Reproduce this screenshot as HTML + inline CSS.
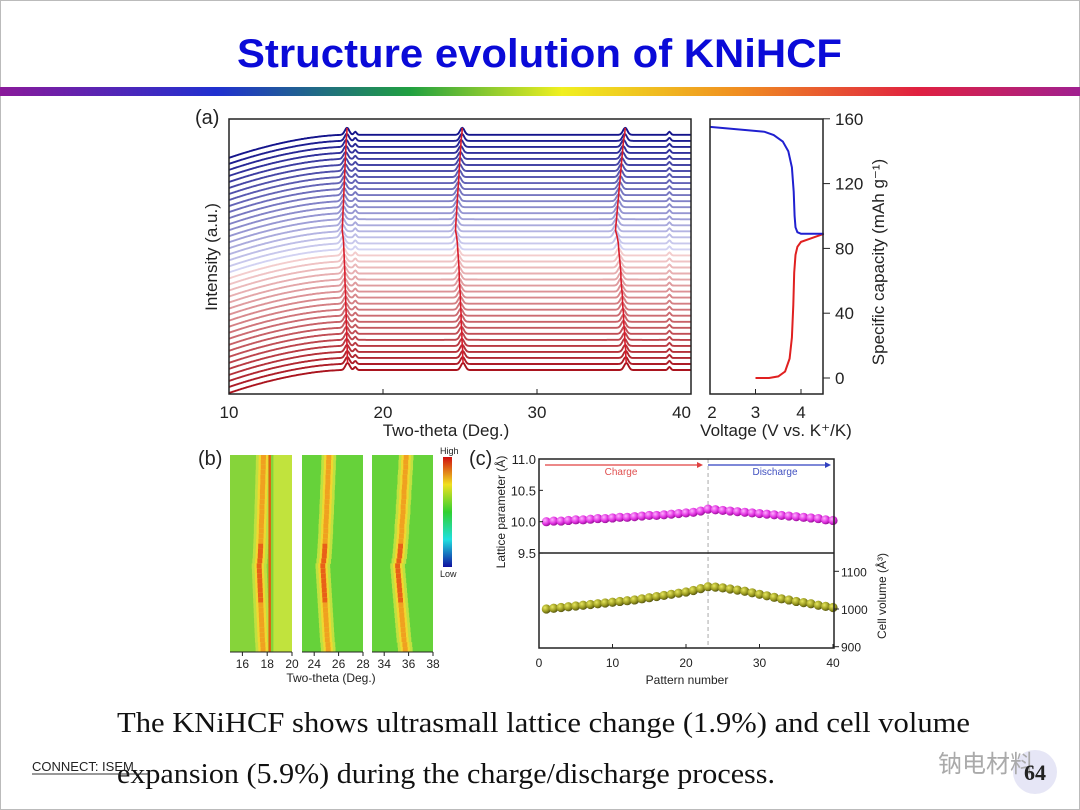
<!DOCTYPE html>
<html><head><meta charset="utf-8"><style>
html,body{margin:0;padding:0;background:#fff}
svg{display:block;font-family:"Liberation Sans",sans-serif}
</style></head><body>
<svg id="s" width="1080" height="810" viewBox="0 0 1080 810" xmlns="http://www.w3.org/2000/svg">
<defs>
<linearGradient id="rb" x1="0" x2="1" y1="0" y2="0">
<stop offset="0" stop-color="#8a1a9a"/><stop offset="0.2" stop-color="#2030d0"/><stop offset="0.38" stop-color="#20a040"/><stop offset="0.52" stop-color="#f0f020"/><stop offset="0.68" stop-color="#f09020"/><stop offset="0.85" stop-color="#e02040"/><stop offset="1" stop-color="#a02090"/>
</linearGradient>
<linearGradient id="cb" x1="0" x2="0" y1="0" y2="1">
<stop offset="0" stop-color="#d01010"/><stop offset="0.25" stop-color="#f0e020"/><stop offset="0.5" stop-color="#30d030"/><stop offset="0.75" stop-color="#20e0e0"/><stop offset="1" stop-color="#1010a0"/>
</linearGradient>
<radialGradient id="gm" cx="0.35" cy="0.35" r="0.7"><stop offset="0" stop-color="#ffb0ff"/><stop offset="0.6" stop-color="#e030e0"/><stop offset="1" stop-color="#901090"/></radialGradient>
<radialGradient id="go" cx="0.35" cy="0.35" r="0.7"><stop offset="0" stop-color="#e8e860"/><stop offset="0.6" stop-color="#9a9a20"/><stop offset="1" stop-color="#505010"/></radialGradient>
</defs>
<rect x="0.5" y="0.5" width="1079" height="809" fill="#fff" stroke="#bbb"/>
<text x="237" y="67" font-size="40" font-weight="bold" textLength="605" lengthAdjust="spacingAndGlyphs" fill="#0a0ad8">Structure evolution of KNiHCF</text>
<rect x="0" y="87" width="1080" height="9" fill="url(#rb)"/>
<g id="ga"></g>
<g id="gv"></g>
<g id="gb"></g>
<g id="gc"></g>
<text x="117" y="732" font-family="Liberation Serif,serif" font-size="29" textLength="853" lengthAdjust="spacingAndGlyphs" fill="#111">The KNiHCF shows ultrasmall lattice change (1.9%) and cell volume</text>
<text x="117" y="783" font-family="Liberation Serif,serif" font-size="29" textLength="658" lengthAdjust="spacingAndGlyphs" fill="#111">expansion (5.9%) during the charge/discharge process.</text>
<text x="32" y="771" font-size="13" fill="#222">CONNECT: ISEM</text>
<line x1="32" y1="774" x2="148" y2="774" stroke="#333" stroke-width="1"/>
<circle cx="1035" cy="772" r="22" fill="#e6e6f6"/>
<text x="938" y="772" font-family="Liberation Sans,Noto Sans CJK SC,sans-serif" font-size="24" fill="#aaa">钠电材料</text>
<text x="1035" y="780" text-anchor="middle" font-family="Liberation Serif,serif" font-weight="bold" font-size="22" fill="#222">64</text>
</svg>
<script>
// ---- data ----
const patterns = [1,2,3,4,5,6,7,8,9,10,11,12,13,14,15,16,17,18,19,20,21,22,23,24,25,26,27,28,29,30,31,32,33,34,35,36,37,38,39,40];
const lattice = [10.00,10.01,10.01,10.02,10.03,10.03,10.04,10.05,10.05,10.06,10.07,10.07,10.08,10.09,10.10,10.10,10.11,10.12,10.13,10.14,10.15,10.17,10.20,10.19,10.18,10.17,10.16,10.15,10.14,10.13,10.12,10.11,10.10,10.09,10.08,10.07,10.06,10.05,10.03,10.02];
const volume = [1000,1002,1004,1006,1008,1010,1012,1014,1016,1018,1020,1022,1024,1027,1030,1033,1036,1039,1042,1045,1049,1054,1059,1058,1056,1053,1050,1047,1043,1039,1035,1031,1027,1024,1020,1017,1014,1010,1007,1004];
const peakBase = [17.7, 25.2, 35.8];
const fixedPeaks = [18.2, 38.6];
const chargeV = [3.0,3.3,3.5,3.65,3.75,3.8,3.83,3.85,3.88,3.92,4.0,4.2,4.5];
const chargeC = [0,0,1,4,12,25,45,65,76,81,84,86,89];
const dischargeV = [4.5,4.2,4.0,3.92,3.88,3.86,3.84,3.8,3.72,3.6,3.4,3.2,2.8,2.0];
const dischargeC = [89,89,89,90,93,100,115,130,140,146,150,152,153,155];
const xTicksA = [10,20,30,40];
const vTicks = [2,3,4];
const capTicks = [0,40,80,120,160];
const pTicks = [0,10,20,30,40];
const latTicks = [9.5,10.0,10.5,11.0];
const volTicks = [900,1000,1100];
const heatRanges = [[15,20],[23,28],[33,38]];
const heatTickSets = [[16,18,20],[24,26,28],[34,36,38]];

const NS="http://www.w3.org/2000/svg";
function mk(parent,tag,attrs,text){const e=document.createElementNS(NS,tag);for(const k in attrs)e.setAttribute(k,attrs[k]);if(text!==undefined)e.textContent=text;parent.appendChild(e);return e;}

// ---- panel a ----
const ga=document.getElementById('ga');
const ax=v=>229+(v-10)/30*462;
const stepY=6.03, baseFlat=370;
function peakPos(k,i){return peakBase[k]*10.0/lattice[i];}
function traceColor(i){const t=i/39;let r,g,b;
 if(t<0.5){const u=t/0.5;r=170+75*u;g=20+190*u;b=30+180*u;}else{const u=(t-0.5)/0.5;r=215-195*u;g=215-195*u;b=245-105*u;}
 return `rgb(${r|0},${g|0},${b|0})`;}
for(let i=0;i<patterns.length;i++){
 let d='';
 for(let xv=10;xv<=40.001;xv+=0.05){
  const t=Math.min(1,(xv-10)/7.5);
  let off=23*Math.pow(1-t,1.7);
  let pk=0;
  for(let k=0;k<3;k++){const p=peakPos(k,i);pk+=7*Math.exp(-Math.pow((xv-p)/0.2,2));}
  for(const f of fixedPeaks)pk+=3*Math.exp(-Math.pow((xv-f)/0.12,2));
  const y=baseFlat-i*stepY+off-pk;
  d+=(d?'L':'M')+ax(xv).toFixed(1)+','+y.toFixed(1);
 }
 const p=mk(ga,'path',{d,fill:'none',stroke:traceColor(i),'stroke-width':1.9});
 
 
}
for(let k=0;k<3;k++){
 let d='';
 for(let i=0;i<patterns.length;i++){const y=baseFlat-i*stepY-7;d+=(d?'L':'M')+ax(peakPos(k,i)).toFixed(1)+','+y.toFixed(1);}
 const p=mk(ga,'path',{d,fill:'none',stroke:'#d81b2a','stroke-width':1.6});
 
 
}
mk(ga,'rect',{x:229,y:119,width:462,height:275,fill:'none',stroke:'#222','stroke-width':1.5});
for(const t of xTicksA){mk(ga,'line',{x1:ax(t),x2:ax(t),y1:394,y2:389,stroke:'#222'});
 const tx=mk(ga,'text',{x:ax(t),y:418,'text-anchor':t==40?'end':'middle','font-size':17,fill:'#222'},String(t));
 }
mk(ga,'text',{x:446,y:436,'text-anchor':'middle','font-size':17,fill:'#222'},'Two-theta (Deg.)');
mk(ga,'text',{x:0,y:0,transform:'translate(217,257) rotate(-90)','text-anchor':'middle','font-size':17,fill:'#222'},'Intensity (a.u.)');
mk(ga,'text',{x:195,y:124,'font-size':20,fill:'#222'},'(a)');

// ---- voltage panel ----
const gv=document.getElementById('gv');
const vx=v=>710+(v-2)*45.5, vy=c=>378-c*1.62;
function poly(V,C){return V.map((v,j)=>(j?'L':'M')+vx(v).toFixed(1)+','+vy(C[j]).toFixed(1)).join('');}
const pc=mk(gv,'path',{d:poly(chargeV,chargeC),fill:'none',stroke:'#e02020','stroke-width':2});

const pd=mk(gv,'path',{d:poly(dischargeV,dischargeC),fill:'none',stroke:'#2020d0','stroke-width':2});

mk(gv,'rect',{x:710,y:119,width:113,height:275,fill:'none',stroke:'#222','stroke-width':1.5});
for(const t of vTicks){mk(gv,'line',{x1:vx(t),x2:vx(t),y1:394,y2:389,stroke:'#222'});
 mk(gv,'text',{x:vx(t)+(t==2?2:0),y:418,'text-anchor':'middle','font-size':17,fill:'#222'},String(t));}
for(const t of capTicks){mk(gv,'line',{x1:823,x2:830,y1:vy(t),y2:vy(t),stroke:'#222'});
 mk(gv,'text',{x:835,y:vy(t)+6,'font-size':17,fill:'#222'},String(t));}
mk(gv,'text',{x:776,y:436,'text-anchor':'middle','font-size':17,fill:'#222'},'Voltage (V vs. K\u207A/K)');
mk(gv,'text',{x:0,y:0,transform:'translate(884,262) rotate(-90)','text-anchor':'middle','font-size':17,fill:'#222'},'Specific capacity (mAh g\u207B\u00B9)');

// ---- panel b heatmaps ----
const gb=document.getElementById('gb');
const boxes=[[230,292],[302,363],[372,433]];
const hy0=455,hy1=652,rowH=(hy1-hy0)/patterns.length;
for(let k=0;k<3;k++){
 const [x0,x1]=boxes[k],[a0,a1]=heatRanges[k];
 const hx=v=>x0+(v-a0)/(a1-a0)*(x1-x0);
 mk(gb,'rect',{x:x0,y:hy0,width:x1-x0,height:hy1-hy0,fill:k==0?'#86d43a':'#66d23a'});
 if(k==0)mk(gb,'rect',{x:hx(18.5),y:hy0,width:x1-hx(18.5),height:hy1-hy0,fill:'#cfe63e',opacity:0.8});
 for(let i=0;i<patterns.length;i++){
  const p=peakPos(k,i),y=hy0+i*rowH;
  const r0=mk(gb,'rect',{x:hx(p-0.6),y:y,width:hx(p+0.6)-hx(p-0.6),height:rowH+0.5,fill:'#c0e040'});
  
  const r1=mk(gb,'rect',{x:hx(p-0.38),y:y,width:hx(p+0.38)-hx(p-0.38),height:rowH+0.5,fill:'#f0d830'});
  
  const inten=Math.min(1,(lattice[i]-10)/0.2);
  const r2=mk(gb,'rect',{x:hx(p-0.2),y:y,width:hx(p+0.2)-hx(p-0.2),height:rowH+0.5,fill:inten>0.6?'#e86018':'#f0a020'});
  
 }
 if(k==0)mk(gb,'rect',{x:hx(18.1),y:hy0,width:hx(18.3)-hx(18.1),height:hy1-hy0,fill:'#e06010'});
 mk(gb,'line',{x1:x0,x2:x1,y1:hy1,y2:hy1,stroke:'#222'});
 for(const t of heatTickSets[k]){mk(gb,'line',{x1:hx(t),x2:hx(t),y1:hy1,y2:hy1+4,stroke:'#222'});
  mk(gb,'text',{x:hx(t),y:668,'text-anchor':'middle','font-size':12,fill:'#222'},String(t));}
}
mk(gb,'text',{x:331,y:682,'text-anchor':'middle','font-size':12,fill:'#222'},'Two-theta (Deg.)');
mk(gb,'text',{x:198,y:465,'font-size':20,fill:'#222'},'(b)');
mk(gb,'rect',{x:443,y:457,width:9,height:110,fill:'url(#cb)'});
mk(gb,'text',{x:440,y:454,'font-size':9,fill:'#222'},'High');
mk(gb,'text',{x:440,y:577,'font-size':9,fill:'#222'},'Low');

// ---- panel c ----
const gc=document.getElementById('gc');
const cx=v=>539+v*7.35, ly=v=>459+(11-v)*62.7, vly=v=>609-(v-1000)*0.377;
mk(gc,'line',{x1:cx(23),x2:cx(23),y1:459,y2:648,stroke:'#aaa','stroke-dasharray':'4,3'});
for(let i=0;i<patterns.length;i++){
 const c1=mk(gc,'circle',{cx:cx(patterns[i]),cy:ly(lattice[i]),r:4.6,fill:'url(#gm)'});
 
 const c2=mk(gc,'circle',{cx:cx(patterns[i]),cy:vly(volume[i]),r:4.6,fill:'url(#go)'});
 
}
mk(gc,'rect',{x:539,y:459,width:295,height:189,fill:'none',stroke:'#222','stroke-width':1.5});
mk(gc,'line',{x1:539,x2:834,y1:553,y2:553,stroke:'#222','stroke-width':1.5});
mk(gc,'line',{x1:545,x2:700,y1:465,y2:465,stroke:'#e04040','stroke-width':1.2});
mk(gc,'path',{d:'M703,465 L697,462 L697,468 Z',fill:'#e04040'});
mk(gc,'line',{x1:708,x2:826,y1:465,y2:465,stroke:'#3040c0','stroke-width':1.2});
mk(gc,'path',{d:'M831,465 L825,462 L825,468 Z',fill:'#3040c0'});
mk(gc,'text',{x:621,y:475,'text-anchor':'middle','font-size':10,fill:'#e05050'},'Charge');
mk(gc,'text',{x:775,y:475,'text-anchor':'middle','font-size':10,fill:'#4050c0'},'Discharge');
for(const t of pTicks){mk(gc,'line',{x1:cx(t),x2:cx(t),y1:648,y2:644,stroke:'#222'});
 mk(gc,'text',{x:cx(t),y:667,'text-anchor':'middle','font-size':12,fill:'#222'},String(t));}
for(const t of latTicks){mk(gc,'line',{x1:539,x2:543,y1:ly(t),y2:ly(t),stroke:'#222'});
 mk(gc,'text',{x:536,y:ly(t)+5,'text-anchor':'end','font-size':13,fill:'#222'},t.toFixed(1));}
for(const t of volTicks){mk(gc,'line',{x1:834,x2:839,y1:vly(t),y2:vly(t),stroke:'#222'});
 mk(gc,'text',{x:841,y:vly(t)+5,'font-size':12,fill:'#222'},String(t));}
mk(gc,'text',{x:687,y:684,'text-anchor':'middle','font-size':12,fill:'#222'},'Pattern number');
mk(gc,'text',{x:0,y:0,transform:'translate(505,512) rotate(-90)','text-anchor':'middle','font-size':12,fill:'#222'},'Lattice parameter (Å)');
mk(gc,'text',{x:0,y:0,transform:'translate(886,596) rotate(-90)','text-anchor':'middle','font-size':12,fill:'#222'},'Cell volume (Å\u00B3)');
mk(gc,'text',{x:469,y:465,'font-size':20,fill:'#222'},'(c)');
</script>
</body></html>
